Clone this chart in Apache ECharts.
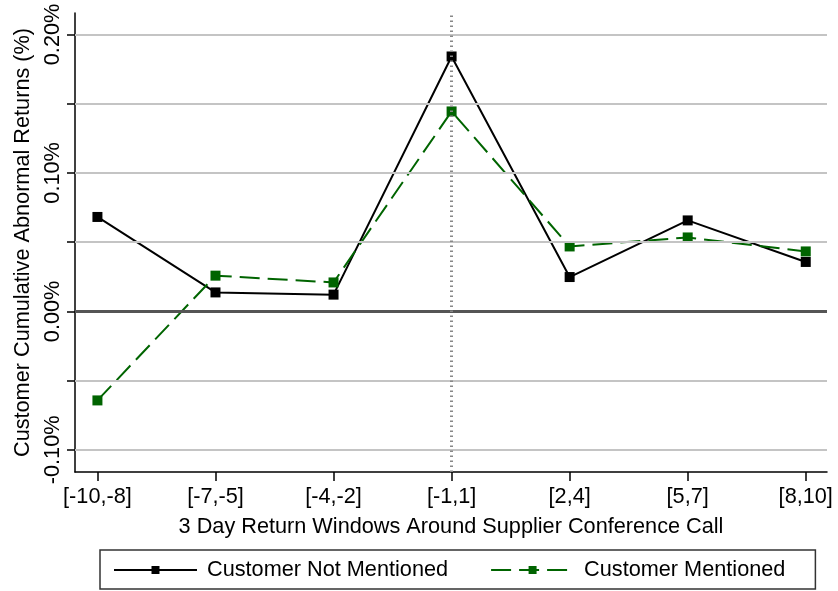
<!DOCTYPE html>
<html>
<head>
<meta charset="utf-8">
<script src="https://cdn.jsdelivr.net/npm/echarts@6/dist/echarts.min.js"></script>
<style>
  html, body { margin: 0; padding: 0; background: #fff; }
  #chart { width: 838px; height: 591px; }
</style>
</head>
<body>
<div id="chart"></div>
<script>
// Return windows (days relative to the supplier conference call)
const windows = ['[-10,-8]', '[-7,-5]', '[-4,-2]', '[-1,1]', '[2,4]', '[5,7]', '[8,10]'];

// Cumulative abnormal returns, in percent
const notMentioned = [0.0682, 0.0137, 0.0121, 0.1841, 0.0248, 0.0657, 0.0357];
const mentioned    = [-0.0643, 0.0258, 0.0209, 0.1444, 0.0469, 0.0534, 0.0433];

// Axis ticks and labelled values
const yTicks  = [-0.1, -0.05, 0, 0.05, 0.1, 0.15, 0.2];
const yLabels = [-0.1, 0, 0.1, 0.2];
const gridLevels = [-0.1, -0.05, 0.05, 0.1, 0.15, 0.2];
const eventWindow = 3;

const FONT = '"Liberation Sans", Arial, sans-serif';
const FS = 21.7;

const toPairs = arr => arr.map((v, i) => [i, v]);
const xIdx = windows.map((_, i) => i);

const chart = echarts.init(document.getElementById('chart'), null, { renderer: 'canvas' });

chart.setOption({
  animation: false,
  backgroundColor: '#ffffff',
  textStyle: { fontFamily: FONT },
  grid: { left: 75, right: 11, top: 13, bottom: 119, containLabel: false },
  xAxis: {
    type: 'value',
    min: -0.19,
    max: 6.18,
    name: '3 Day Return Windows Around Supplier Conference Call',
    nameLocation: 'middle',
    nameGap: 44,
    nameTextStyle: { fontFamily: FONT, fontSize: FS, color: '#000' },
    axisLine: { show: true, onZero: false, lineStyle: { color: '#000', width: 1.5 } },
    axisTick: { show: true, length: 9, customValues: xIdx, lineStyle: { color: '#000', width: 1.5 } },
    axisLabel: {
      customValues: xIdx,
      formatter: v => windows[Math.round(v)],
      fontFamily: FONT, fontSize: FS, color: '#000', margin: 14
    },
    splitLine: { show: false }
  },
  yAxis: {
    type: 'value',
    min: -0.116,
    max: 0.2155,
    name: 'Customer Cumulative Abnormal Returns (%)',
    nameLocation: 'middle',
    nameRotate: 90,
    nameGap: 38,
    nameTextStyle: { fontFamily: FONT, fontSize: FS, color: '#000' },
    axisLine: { show: true, onZero: false, lineStyle: { color: '#000', width: 1.5 } },
    axisTick: { show: true, length: 8, customValues: yTicks, lineStyle: { color: '#000', width: 1.5 } },
    axisLabel: {
      customValues: yLabels,
      rotate: 90,
      formatter: v => v.toFixed(2) + '%',
      fontFamily: FONT, fontSize: FS, color: '#000', margin: 11
    },
    splitLine: { show: false }
  },
  legend: {
    data: ['Customer Not Mentioned', 'Customer Mentioned'],
    left: 100,
    top: 550,
    orient: 'horizontal',
    borderColor: '#333',
    borderWidth: 1.5,
    borderRadius: 0,
    padding: [9, 30, 8, 13],
    itemWidth: 83,
    itemHeight: 10,
    itemGap: 42,
    textStyle: { fontFamily: FONT, fontSize: FS, color: '#000', padding: [0, 0, 0, 5] }
  },
  series: [
    {
      // reference lines: horizontal grid, zero line, event window marker
      name: 'reference',
      type: 'line',
      data: [],
      z: 1,
      silent: true,
      markLine: {
        silent: true,
        symbol: 'none',
        label: { show: false },
        animation: false,
        data: [
          ...gridLevels.map(v => ({ yAxis: v, lineStyle: { color: '#c4c4c4', width: 1.8, type: 'solid' } })),
          { yAxis: 0, lineStyle: { color: '#555', width: 3, type: 'solid' } },
          { xAxis: eventWindow, lineStyle: { color: '#888', width: 3, type: [1.5, 3.5] } }
        ]
      }
    },
    {
      name: 'Customer Not Mentioned',
      type: 'line',
      z: 3,
      data: toPairs(notMentioned),
      symbol: 'rect',
      symbolSize: 10,
      itemStyle: { color: '#000' },
      lineStyle: { color: '#000', width: 2, type: 'solid' }
    },
    {
      name: 'Customer Mentioned',
      type: 'line',
      z: 4,
      data: toPairs(mentioned),
      symbol: 'rect',
      symbolSize: 10,
      itemStyle: { color: '#006400' },
      lineStyle: { color: '#006400', width: 2, type: [20, 8] }
    }
  ]
});
</script>
</body>
</html>
